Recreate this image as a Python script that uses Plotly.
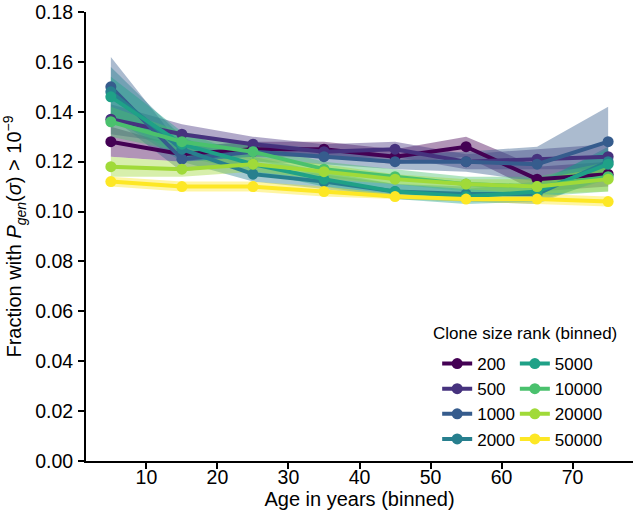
import plotly.graph_objects as go

ages = [5, 15, 25, 35, 45, 55, 65, 75]
ranks = ["200", "500", "1000", "2000", "5000", "10000", "20000", "50000"]
colors = ["#440154", "#46327e", "#365c8d", "#277f8e", "#1fa187", "#4ac16d", "#a0da39", "#fde725"]

mean_200 = [0.128, 0.123, 0.125, 0.125, 0.122, 0.126, 0.113, 0.115]
mean_500 = [0.137, 0.131, 0.127, 0.124, 0.125, 0.120, 0.121, 0.122]
mean_1000 = [0.150, 0.121, 0.124, 0.122, 0.120, 0.120, 0.119, 0.128]
mean_2000 = [0.148, 0.125, 0.115, 0.112, 0.108, 0.107, 0.107, 0.120]
mean_5000 = [0.146, 0.127, 0.119, 0.113, 0.108, 0.106, 0.108, 0.119]
mean_10000 = [0.136, 0.128, 0.124, 0.117, 0.114, 0.111, 0.110, 0.114]
mean_20000 = [0.118, 0.117, 0.119, 0.116, 0.113, 0.111, 0.110, 0.113]
mean_50000 = [0.112, 0.110, 0.110, 0.108, 0.106, 0.105, 0.105, 0.104]

low_200 = [0.122, 0.120, 0.122, 0.122, 0.119, 0.122, 0.108, 0.110]
high_200 = [0.134, 0.126, 0.128, 0.128, 0.125, 0.130, 0.118, 0.120]
low_500 = [0.131, 0.127, 0.124, 0.121, 0.122, 0.117, 0.117, 0.117]
high_500 = [0.143, 0.135, 0.130, 0.127, 0.128, 0.123, 0.125, 0.127]
low_1000 = [0.138, 0.116, 0.120, 0.119, 0.117, 0.116, 0.112, 0.115]
high_1000 = [0.162, 0.126, 0.128, 0.125, 0.123, 0.124, 0.126, 0.142]
low_2000 = [0.138, 0.120, 0.112, 0.109, 0.105, 0.104, 0.103, 0.114]
high_2000 = [0.158, 0.130, 0.118, 0.115, 0.111, 0.110, 0.111, 0.126]
low_5000 = [0.138, 0.122, 0.116, 0.110, 0.105, 0.103, 0.104, 0.113]
high_5000 = [0.154, 0.132, 0.122, 0.116, 0.111, 0.109, 0.112, 0.125]
low_10000 = [0.130, 0.124, 0.121, 0.114, 0.111, 0.108, 0.106, 0.108]
high_10000 = [0.142, 0.132, 0.127, 0.120, 0.117, 0.114, 0.114, 0.120]
low_20000 = [0.114, 0.114, 0.116, 0.113, 0.111, 0.109, 0.107, 0.108]
high_20000 = [0.122, 0.120, 0.122, 0.119, 0.115, 0.113, 0.113, 0.118]
low_50000 = [0.110, 0.108, 0.108, 0.106, 0.105, 0.104, 0.103, 0.102]
high_50000 = [0.114, 0.112, 0.112, 0.110, 0.107, 0.106, 0.107, 0.106]

means = [mean_200, mean_500, mean_1000, mean_2000, mean_5000, mean_10000, mean_20000, mean_50000]
lows = [low_200, low_500, low_1000, low_2000, low_5000, low_10000, low_20000, low_50000]
highs = [high_200, high_500, high_1000, high_2000, high_5000, high_10000, high_20000, high_50000]

y_ticks = [0.00, 0.02, 0.04, 0.06, 0.08, 0.10, 0.12, 0.14, 0.16, 0.18]
x_ticks = [10, 20, 30, 40, 50, 60, 70]


def rgba(hex_color, a):
    h = hex_color.lstrip("#")
    r, g, b = int(h[0:2], 16), int(h[2:4], 16), int(h[4:6], 16)
    return f"rgba({r},{g},{b},{a})"


fig = go.Figure()

for i, name in enumerate(ranks):
    fig.add_trace(go.Scatter(
        x=ages + ages[::-1], y=highs[i] + lows[i][::-1],
        fill="toself", fillcolor=rgba(colors[i], 0.42),
        line=dict(width=0), mode="lines", showlegend=False, hoverinfo="skip",
    ))

for i, name in enumerate(ranks):
    fig.add_trace(go.Scatter(
        x=ages, y=means[i], mode="lines+markers", name=name,
        line=dict(color=colors[i], width=4),
        marker=dict(color=colors[i], size=11),
        legend="legend" if i < 4 else "legend2",
    ))

font_family = "Liberation Sans, Arial, sans-serif"

fig.update_layout(
    width=640, height=518,
    margin=dict(l=86, r=7, t=12, b=57),
    paper_bgcolor="white", plot_bgcolor="white",
    font=dict(family=font_family, size=19, color="black"),
    xaxis=dict(
        range=[1.5, 78.5], tickvals=x_ticks, ticks="outside", ticklen=6, tickwidth=1.5,
        tickcolor="black", automargin=False, ticklabelstandoff=-8,
        showline=True, linecolor="black", linewidth=2, showgrid=False, zeroline=False,
        title=dict(text="Age in years (binned)", font=dict(size=20), standoff=0),
        tickfont=dict(size=19.5),
    ),
    yaxis=dict(
        range=[0, 0.18], tickvals=y_ticks, tickformat=".2f", ticks="outside", ticklen=6, tickwidth=1.5,
        tickcolor="black", automargin=False, ticklabelstandoff=1,
        showline=True, linecolor="black", linewidth=2, showgrid=False, zeroline=False,
        title=dict(text="Fraction with <i>P</i><sub><i>gen</i></sub>(<i>σ</i>) > 10<sup>−9</sup>",
                   font=dict(size=20), standoff=10),
        tickfont=dict(size=19.5),
    ),
    legend=dict(x=0.642, y=0.256, xanchor="left", yanchor="top", bgcolor="rgba(0,0,0,0)",
                font=dict(size=17), tracegroupgap=0, itemwidth=30),
    legend2=dict(x=0.784, y=0.256, xanchor="left", yanchor="top", bgcolor="rgba(0,0,0,0)",
                 font=dict(size=17), tracegroupgap=0, itemwidth=30),
    annotations=[dict(text="Clone size rank (binned)", xref="paper", yref="paper",
                      x=0.8026, y=0.285, xanchor="center", yanchor="middle", showarrow=False,
                      font=dict(size=17))],
)

fig.write_html("out.html", config={"displayModeBar": False},
               post_script="document.body.style.margin='0';document.body.style.overflow='hidden';")
